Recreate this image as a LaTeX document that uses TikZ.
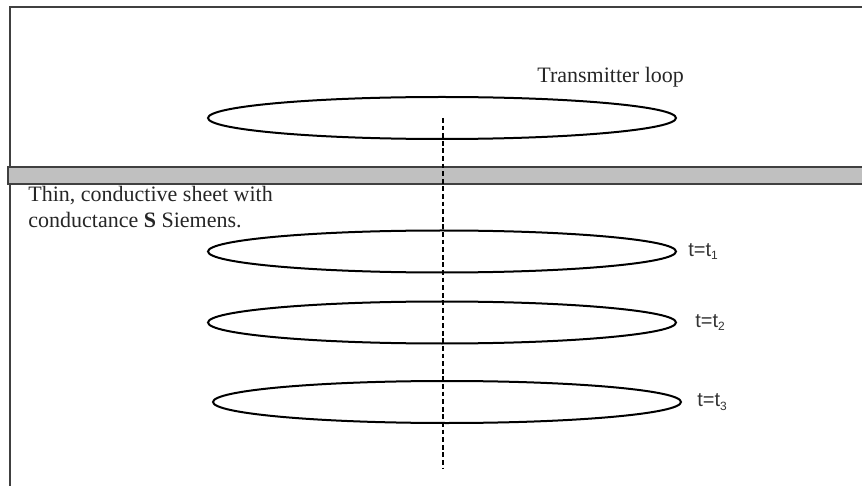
\documentclass[tikz,border=0pt]{standalone}
\usepackage{fontspec}
\setmainfont{Liberation Serif}
\newfontfamily\labelfont{Liberation Sans}
\usetikzlibrary{positioning,shapes.geometric}
\definecolor{sheetgray}{RGB}{192,192,192}
\definecolor{framegray}{RGB}{64,64,64}
\newcommand{\tsub}[1]{\raisebox{-1.8pt}{\fontsize{6}{7}\selectfont#1}}
\begin{document}
\begin{tikzpicture}[x=0.5pt,y=-0.5pt,
  loop/.style={draw, ellipse, line width=1pt, minimum width=234pt, minimum height=21pt, inner sep=0pt},
  tlabel/.style={inner sep=0pt, text=black!80, font=\labelfont\fontsize{10}{12}\selectfont},
  axis/.style={line width=1.4pt, dash pattern=on 2.4pt off 1.4pt}]
  \useasboundingbox (0,0) rectangle (862,486);
  \clip (0,0) rectangle (862,486);
  % frame and conductive sheet
  \draw[framegray, line width=0.6pt] (10,486) -- (10,7) -- (870,7);
  \draw[framegray, fill=sheetgray, line width=0.6pt] (8,167) rectangle (870,184);
  \node[inner sep=0pt, anchor=north west, align=left, text=black!85, font=\fontsize{11}{13}\selectfont] (sheet) at (28,186) {Thin, conductive sheet with\\conductance \textbf{S} Siemens.};
  % transmitter
  \node[loop] (tx) at (442,118) {};
  \node[inner sep=0pt, anchor=base west, text=black!85, font=\fontsize{11}{13}\selectfont] (txlabel) at (537,83) {Transmitter loop};
  % image loops at later times
  \foreach \n/\cx/\cy/\gap in {1/442/251.5/5.5pt, 2/442/322.5/9pt, 3/447/402/7.5pt} {
    \node[loop] (r\n) at (\cx,\cy) {};
    \node[tlabel, right=\gap of r\n] (t\n) {t=t\tsub{\n}};
  }
  \coordinate (bot) at (443,468);
  \draw[axis] (tx.center -| bot) -- (bot);
\end{tikzpicture}
\end{document}
